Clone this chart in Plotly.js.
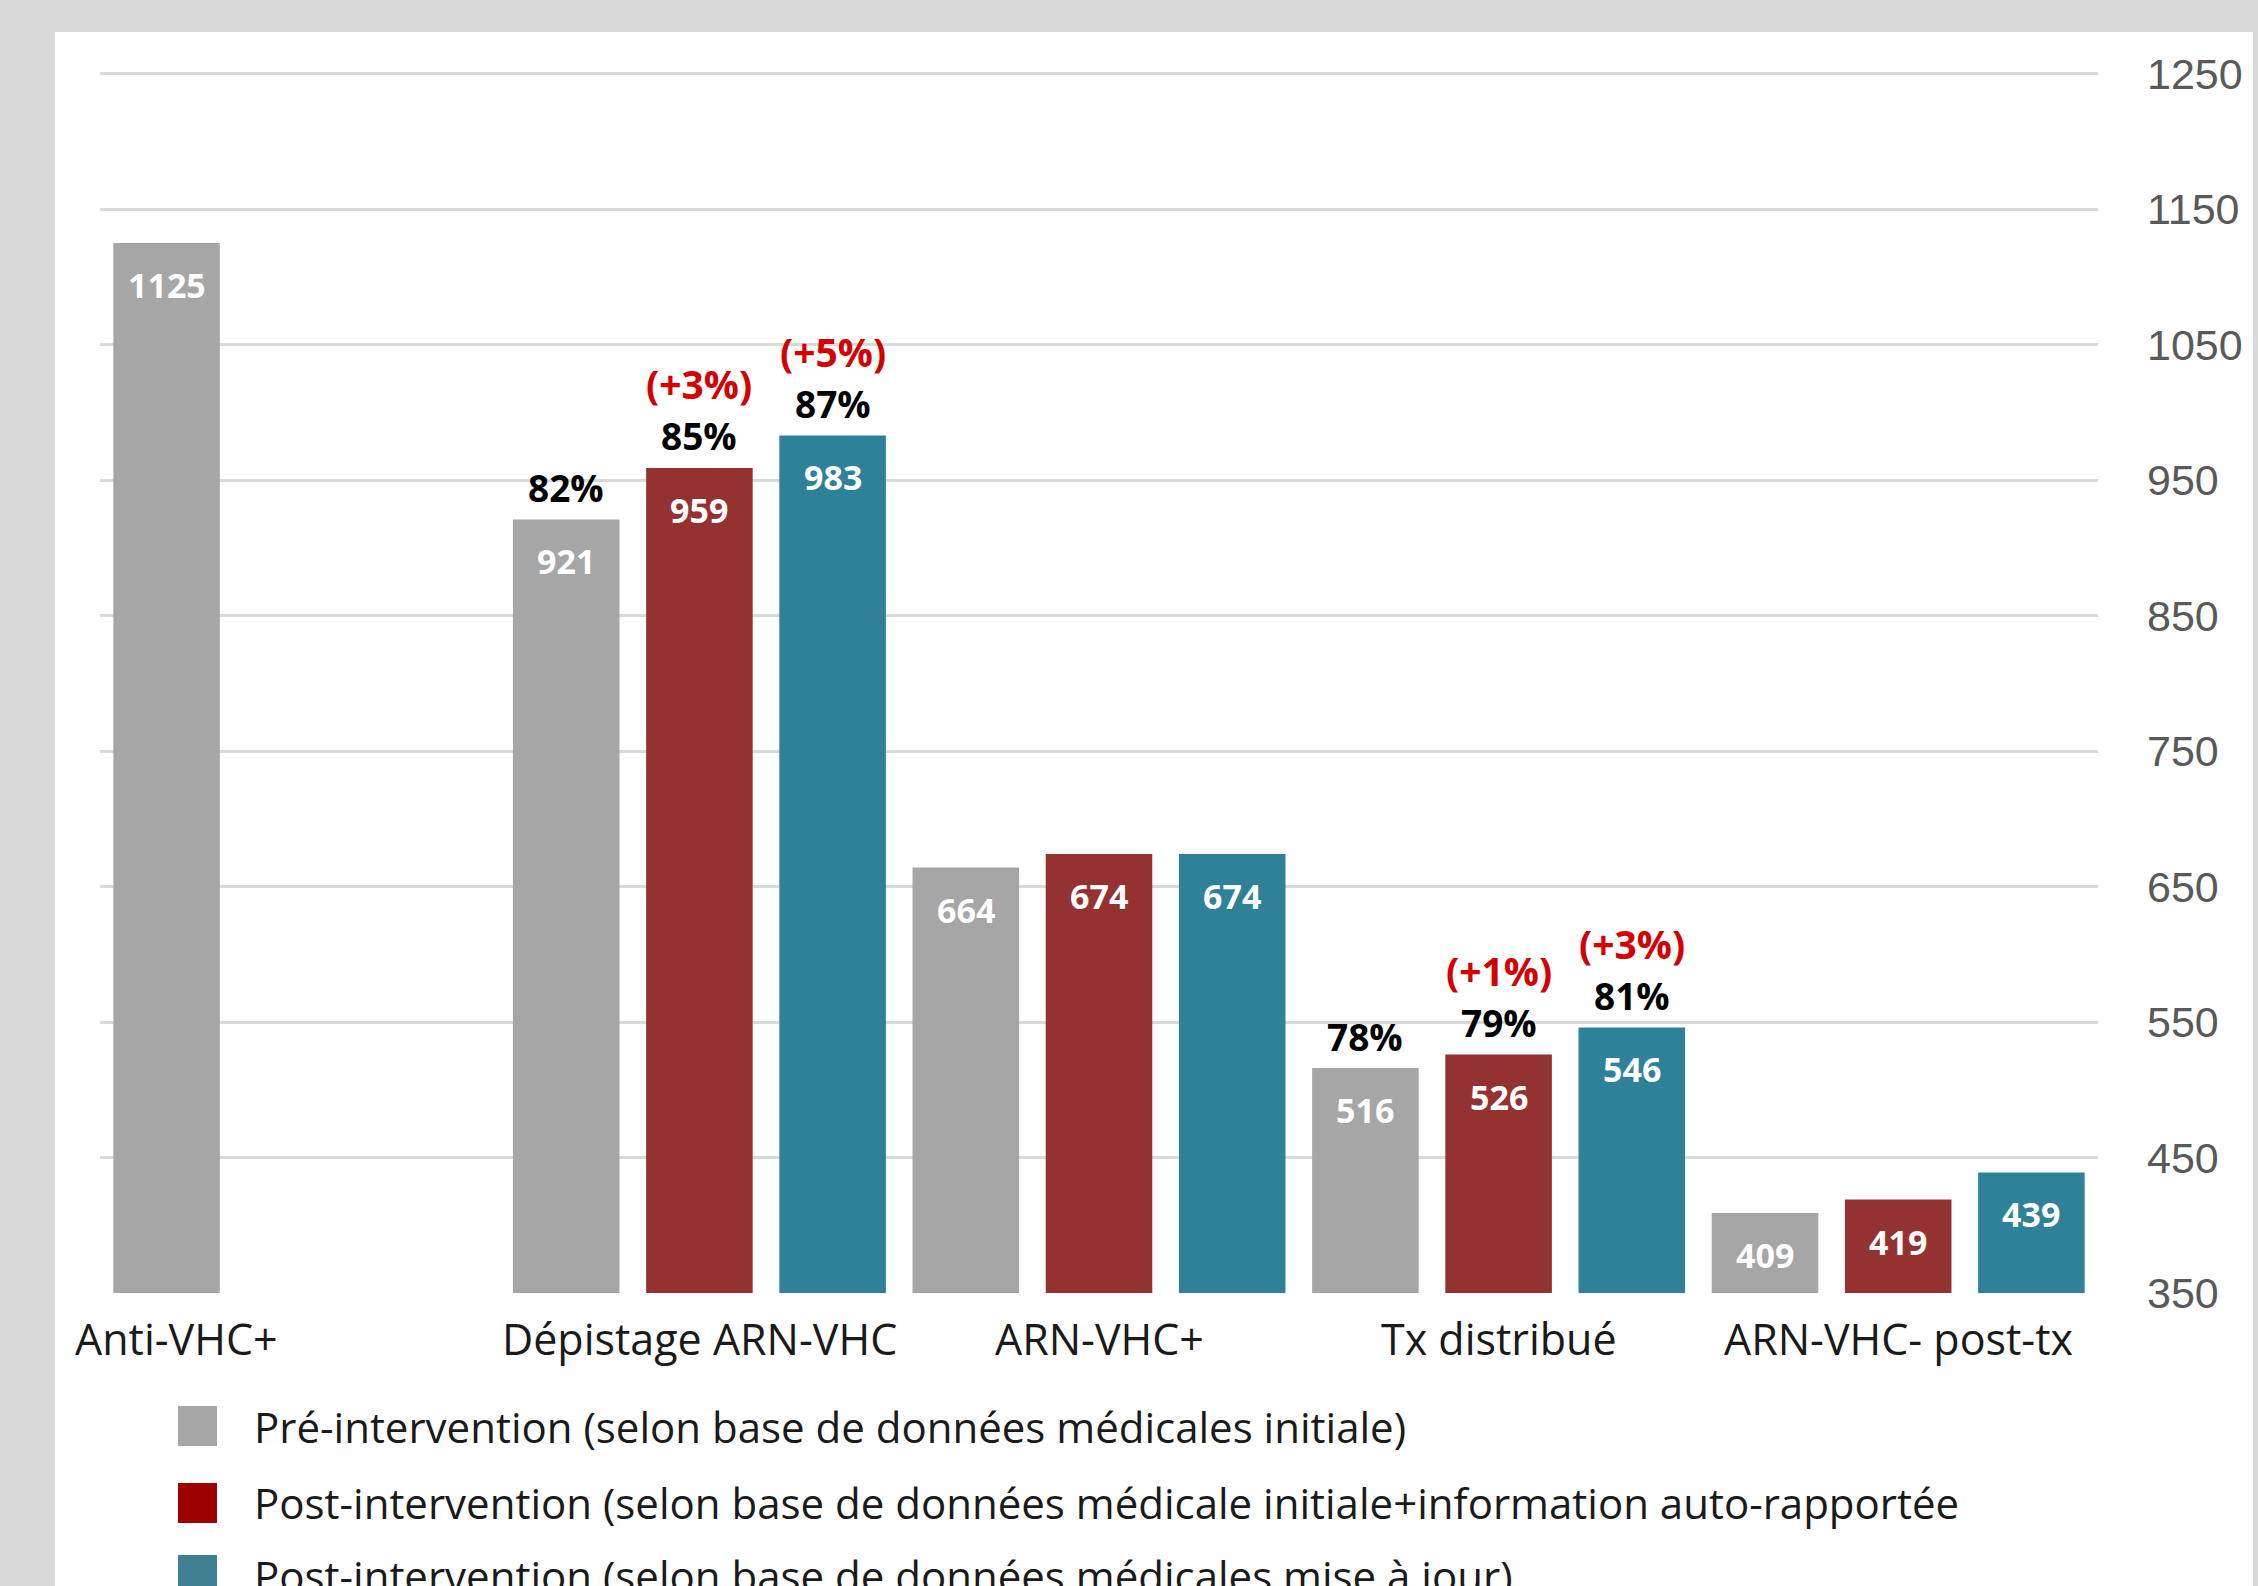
<!DOCTYPE html>
<html>
<head>
<meta charset="utf-8">
<script src="https://cdn.plot.ly/plotly-3.0.1.min.js"></script>
<style>
html,body{margin:0;padding:0;background:#d9d9d9;}
#chart{width:2258px;height:1586px;}
</style>
</head>
<body>
<div id="chart"></div>
<script>
// ---- data ----
const categories = ["Anti-VHC+", "Dépistage ARN-VHC", "ARN-VHC+", "Tx distribué", "ARN-VHC- post-tx"];
const seriesNames = [
  "Pré-intervention (selon base de données médicales initiale)",
  "Post-intervention (selon base de données médicale initiale+information auto-rapportée",
  "Post-intervention (selon base de données médicales mise à jour)"
];
const preValues = [1125, 921, 664, 516, 409];
const postSelfValues = [null, 959, 674, 526, 419];
const postUpdatedValues = [null, 983, 674, 546, 439];
const prePct = [null, "82%", null, "78%", null];
const postSelfPct = [null, "85%", null, "79%", null];
const postUpdatedPct = [null, "87%", null, "81%", null];
const postSelfGain = [null, "(+3%)", null, "(+1%)", null];
const postUpdatedGain = [null, "(+5%)", null, "(+3%)", null];
const yTickValues = [350, 450, 550, 650, 750, 850, 950, 1050, 1150, 1250];

// ---- styling ----
const barColors = ["#a6a6a6", "#943232", "#2e8199"];
const legendColors = ["#a6a6a6", "#9e0000", "#3e7f91"];
const W = 2258, H = 1586;
const M = {l: 100, r: 160, t: 71, b: 293};
const pw = W - M.l - M.r, ph = H - M.t - M.b;
const pxX = x => (x - M.l) / pw;
const pxY = y => (H - M.b - y) / ph;
const FONT = "Open Sans, Lato, sans-serif";

const seriesValues = [preValues, postSelfValues, postUpdatedValues];
const seriesPct = [prePct, postSelfPct, postUpdatedPct];
const seriesGain = [null, postSelfGain, postUpdatedGain];

const traces = seriesValues.map((vals, s) => ({
  type: "bar",
  name: seriesNames[s],
  x: categories,
  y: vals,
  marker: {color: barColors[s]},
  hoverinfo: "skip",
  showlegend: false
}));

const annotations = [];
seriesValues.forEach((vals, s) => {
  const off = (s - 1) / 3;
  vals.forEach((v, i) => {
    if (v === null) return;
    annotations.push({
      x: i + off, y: v, xref: "x", yref: "y", showarrow: false,
      yanchor: "middle", yshift: -42,
      text: "<b>" + v + "</b>",
      font: {family: FONT, size: 34, color: "#ffffff"}
    });
    const p = seriesPct[s][i];
    if (p) annotations.push({
      x: i + off, y: v, xref: "x", yref: "y", showarrow: false,
      yanchor: "middle", yshift: 32,
      text: "<b>" + p + "</b>",
      font: {family: FONT, size: 37, color: "#000000"}
    });
    const g = seriesGain[s] ? seriesGain[s][i] : null;
    if (g) annotations.push({
      x: i + off, y: v, xref: "x", yref: "y", showarrow: false,
      yanchor: "middle", yshift: 84,
      text: "<b>" + g + "</b>",
      font: {family: FONT, size: 39, color: "#d40000"}
    });
  });
});

// category labels (first one sits under its single bar)
categories.forEach((c, i) => {
  annotations.push({
    x: i === 0 ? i - 1 / 3 : i, y: 0, xref: "x", yref: "paper",
    xshift: i === 0 ? 10 : 0,
    yanchor: "middle", yshift: -45, showarrow: false,
    text: c,
    font: {family: FONT, size: 43, color: "#1a1a1a"}
  });
});

// legend
const legendRowY = [1426, 1503, 1575];
const shapes = [{
  type: "rect", xref: "paper", yref: "paper", layer: "below",
  x0: pxX(55), x1: pxX(2253), y0: pxY(H + 20), y1: pxY(32),
  fillcolor: "#ffffff", line: {width: 0}
}];
seriesNames.forEach((n, s) => {
  shapes.push({
    type: "rect", xref: "paper", yref: "paper",
    x0: pxX(178), x1: pxX(217), y0: pxY(legendRowY[s] + 20), y1: pxY(legendRowY[s] - 20),
    fillcolor: legendColors[s], line: {width: 0}
  });
  annotations.push({
    x: pxX(252), y: pxY(legendRowY[s]), xref: "paper", yref: "paper",
    xanchor: "left", yanchor: "middle", showarrow: false,
    text: n,
    font: {family: FONT, size: 42, color: "#1a1a1a"}
  });
});

const layout = {
  width: W, height: H,
  margin: M,
  paper_bgcolor: "#d9d9d9",
  plot_bgcolor: "rgba(0,0,0,0)",
  barmode: "group",
  bargap: 0,
  bargroupgap: 0.2,
  showlegend: false,
  xaxis: {
    type: "category",
    range: [-0.5, categories.length - 0.5],
    showticklabels: false, showgrid: false, zeroline: false, showline: false,
    fixedrange: true
  },
  yaxis: {
    side: "right",
    range: [350, 1252],
    tickmode: "array",
    tickvals: yTickValues,
    ticktext: yTickValues.map(String),
    showgrid: true, gridcolor: "#d9d9d9", gridwidth: 3,
    zeroline: false, showline: false, ticks: "",
    ticklabelstandoff: 48,
    tickfont: {family: "Liberation Sans, Arial, sans-serif", size: 43, color: "#595959"},
    fixedrange: true
  },
  shapes: shapes,
  annotations: annotations
};

Plotly.newPlot("chart", traces, layout, {displayModeBar: false, staticPlot: true});
</script>
</body>
</html>
